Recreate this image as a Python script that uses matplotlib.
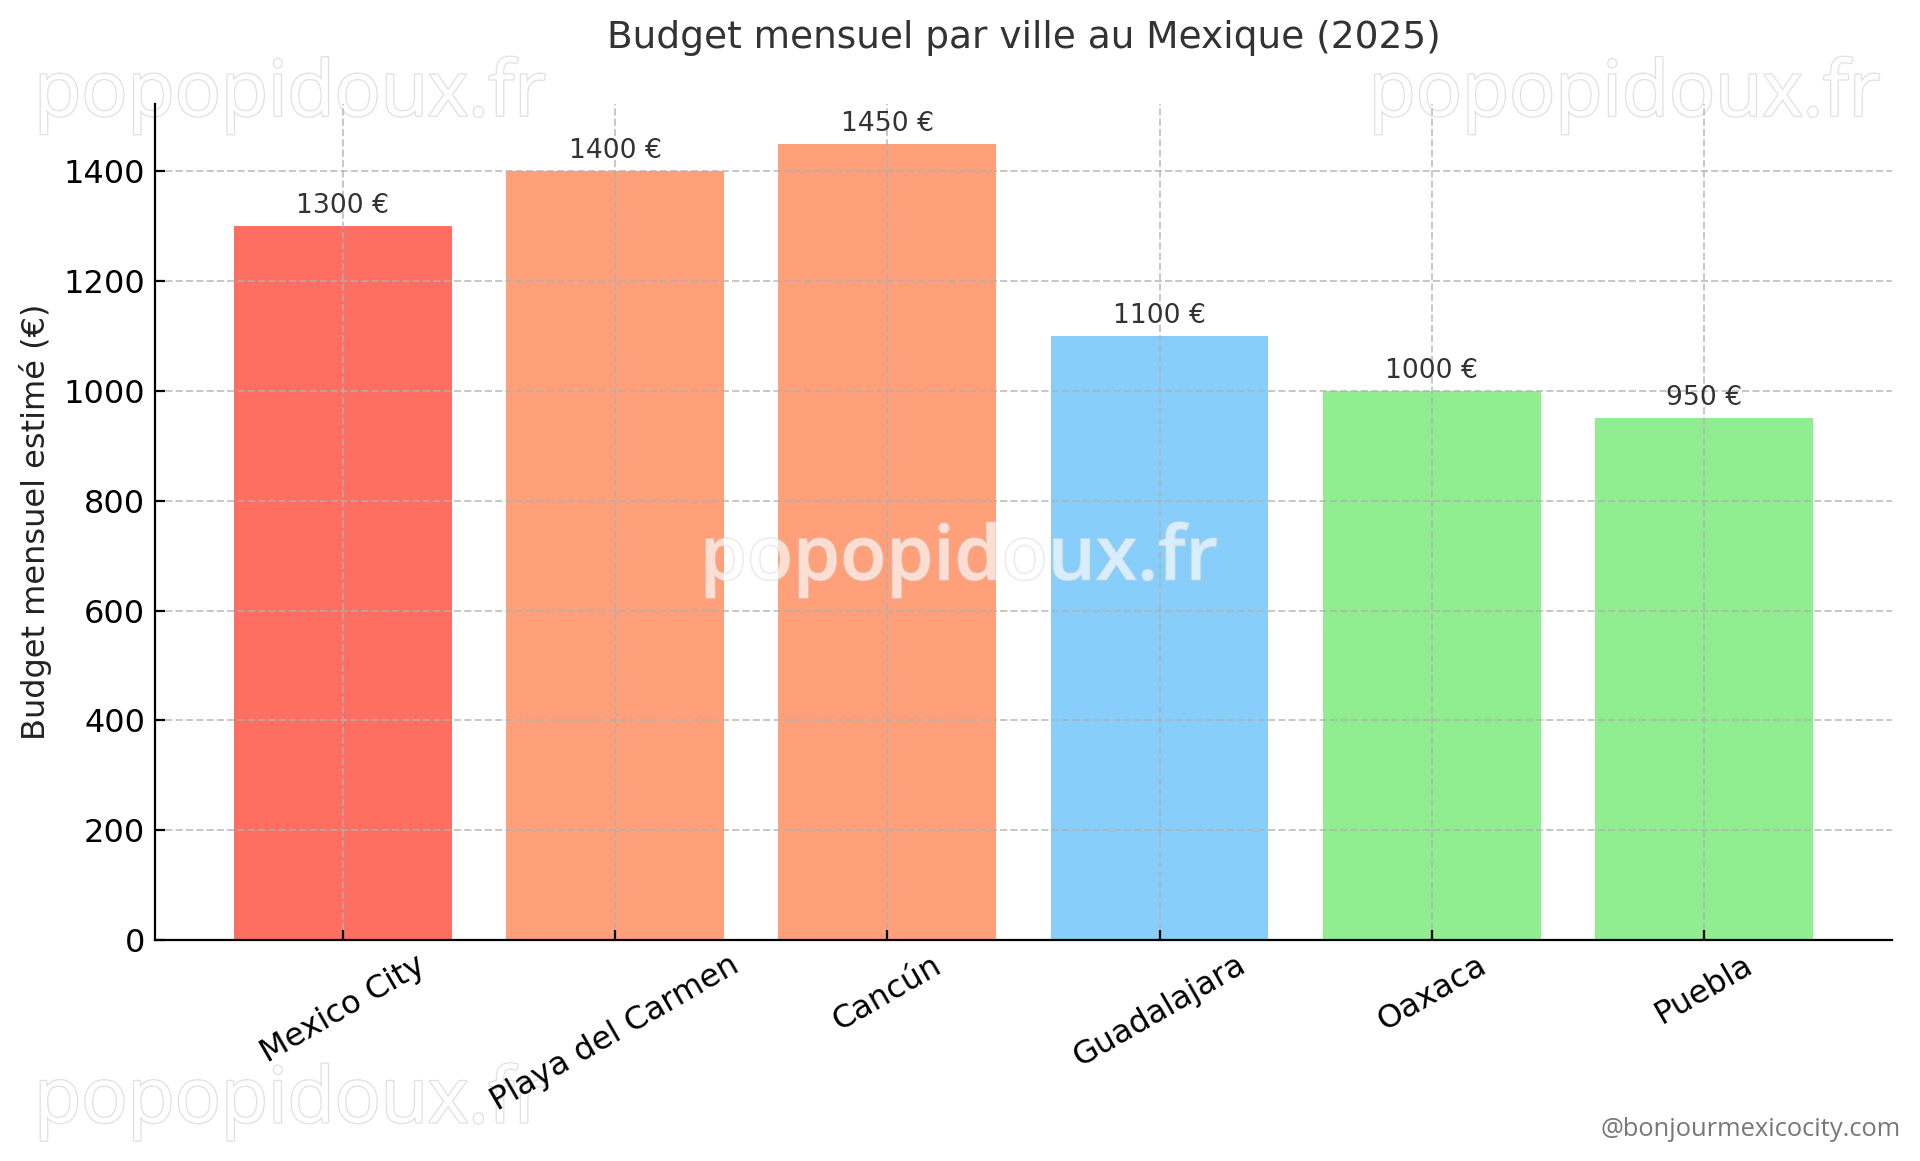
import matplotlib
matplotlib.use("Agg")
import matplotlib.pyplot as plt
import matplotlib.patheffects as pe

# données
villes = ["Mexico City", "Playa del Carmen", "Cancún", "Guadalajara", "Oaxaca", "Puebla"]
budgets = [1300, 1400, 1450, 1100, 1000, 950]
couleurs = ["#FF6F61", "#FFA07A", "#FFA07A", "#87CEFA", "#90EE90", "#90EE90"]
etiquettes = [f"{b} €" for b in budgets]
yticks = [0, 200, 400, 600, 800, 1000, 1200, 1400]

fig = plt.figure(figsize=(9.6, 5.805), dpi=200)
ax = fig.add_axes([0.0807, 0.1904, 0.9047, 0.72])
ax.patch.set_alpha(0)  # laisse voir les filigranes des coins

bars = ax.bar(villes, budgets, color=couleurs, width=0.8)
for rect, txt in zip(bars, etiquettes):
    ax.annotate(txt, xy=(rect.get_x() + rect.get_width() / 2, rect.get_height()),
                xytext=(0, 2.5), textcoords="offset points",
                ha="center", va="bottom", fontsize=9.6, color="#333333")

ax.set_title("Budget mensuel par ville au Mexique (2025)", fontsize=13.5, color="#333333", pad=20)
ax.set_ylabel("Budget mensuel estimé (€)", fontsize=11.5, color="#222222")
ax.set_yticks(yticks)
ax.tick_params(axis="both", direction="in", labelsize=11.5)
plt.setp(ax.get_xticklabels(), rotation=30, ha="center")
ax.grid(True, linestyle="--", color="#b0b0b0", alpha=0.7, linewidth=0.7)
for s in ["top", "right"]:
    ax.spines[s].set_visible(False)

# filigranes
for x, y in [(0.151, 0.918), (0.846, 0.918), (0.151, 0.051)]:
    fig.text(x, y, "popopidoux.fr", fontsize=27.7, family="Open Sans", ha="center", va="center",
             color="white", zorder=-1,
             path_effects=[pe.Stroke(linewidth=0.9, foreground="#e0e0e0"), pe.Normal()])
fig.text(0.4995, 0.518, "popopidoux.fr", fontsize=27.2, family="Open Sans", fontweight="semibold",
         ha="center", va="center", color=(1, 1, 1, 0.42), zorder=5,
         path_effects=[pe.Stroke(linewidth=0.6, foreground=(0.85, 0.85, 0.85, 0.6)), pe.Normal()])
fig.text(0.99, 0.027, "@bonjourmexicocity.com", fontsize=9.2, family="Open Sans",
         ha="right", va="center", color="#777777")

fig.savefig("out.png", dpi=200)
